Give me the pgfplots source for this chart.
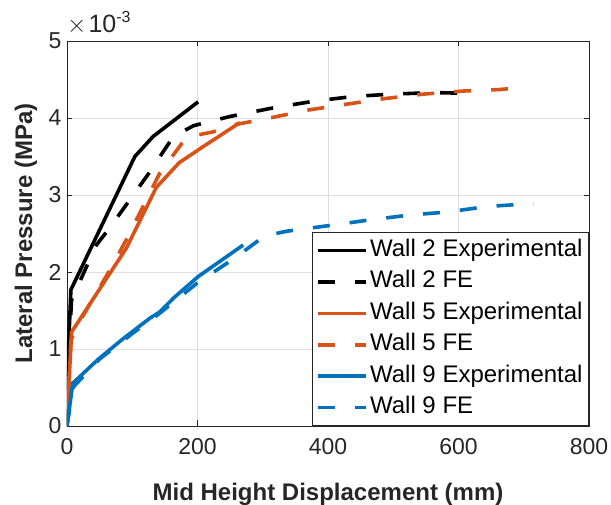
\documentclass[border=0pt]{standalone}
\usepackage{fontspec}
\setmainfont{Liberation Sans}
\usepackage{pgfplots}
\pgfplotsset{compat=1.18}
\definecolor{mblue}{rgb}{0,0.447,0.741}
\definecolor{morange}{rgb}{0.85,0.325,0.098}
\definecolor{axisgray}{HTML}{262626}
\definecolor{gridgray}{HTML}{DFDFDF}
\begin{document}
\begin{tikzpicture}
\useasboundingbox (-67pt,-79pt) rectangle (544pt,426pt);
\begin{axis}[
  name=ax,
  scale only axis,
  width=522pt, height=385pt,
  xmin=0, xmax=800, ymin=0, ymax=5,
  xtick={0,200,400,600,800},
  ytick={0,1,2,3,4,5},
  grid=major,
  major grid style={draw=gridgray, line width=0.8pt},
  axis line style={draw=axisgray, line width=0.9pt},
  tick style={draw=axisgray, line width=0.9pt},
  tick align=inside,
  major tick length=5.5pt,
  /pgf/number format/assume math mode=true,
  tick label style={font=\fontsize{23}{27}\selectfont, text=axisgray},
  xticklabel style={yshift=-9pt},
  yticklabel style={xshift=-2pt},
  xlabel={Mid Height Displacement (mm)},
  ylabel={Lateral Pressure (MPa)},
  label style={font=\fontsize{24}{28}\selectfont\bfseries, text=axisgray},
  xlabel style={at={(axis description cs:0.5,-0.193)}, anchor=base},
  ylabel style={at={(axis description cs:-0.067,0.5)}, anchor=base},
  legend cell align=left,
  legend image code/.code={\draw[#1] (0pt,0pt) -- (48pt,0pt);},
  legend style={at={(1,0)}, anchor=south east, draw=axisgray, line width=0.8pt,
    fill=white, font=\fontsize{24}{28}\selectfont, text=black,
    inner xsep=4pt, inner ysep=7pt, row sep=9.4pt,
    nodes={inner xsep=2pt, inner ysep=0pt, text height=17pt, text depth=5pt}},
  every axis plot/.append style={line width=3.6pt},
]
% Wall 2 Experimental
\addplot[black, solid] coordinates {(0,0) (2,0.95) (6,1.77) (104,3.50) (132,3.76) (201,4.21)};
\addlegendentry{Wall 2 Experimental}
% Wall 2 FE
\addplot[black, dash pattern=on 17pt off 20pt] coordinates {(0,0) (3,1.0) (7,1.64) (45,2.35) (66,2.58) (127,3.30) (163,3.76) (194,3.90) (250,4.02) (321,4.14) (380,4.22) (439,4.28) (498,4.31) (561,4.33) (618,4.32) (628,4.30)};
\addlegendentry{Wall 2 FE}
% Wall 5 Experimental
\addplot[morange, solid] coordinates {(0,0) (3,0.56) (7,1.22) (91,2.31) (137,3.10) (172,3.42) (209,3.63) (265,3.94)};
\addlegendentry{Wall 5 Experimental}
% Wall 5 FE
\addplot[morange, dash pattern=on 17pt off 20pt] coordinates {(0,0) (6,1.10) (12,1.25) (66,2.03) (91,2.42) (142,3.28) (183,3.75) (224,3.82) (255,3.91) (311,4.00) (367,4.10) (429,4.18) (485,4.25) (546,4.31) (607,4.35) (664,4.37) (676,4.38)};
\addlegendentry{Wall 5 FE}
% Wall 9 Experimental
\addplot[mblue, solid] coordinates {(0,0) (9,0.56) (17,0.62) (47,0.86) (84,1.12) (127,1.40) (142,1.48) (163,1.66) (201,1.94) (270,2.35)};
\addlegendentry{Wall 9 Experimental}
% Wall 9 FE
\addplot[mblue, dash pattern=on 17pt off 20pt] coordinates {(0,0) (9,0.50) (20,0.60) (50,0.87) (100,1.20) (140,1.45) (200,1.86) (257,2.18) (303,2.47) (337,2.53) (408,2.61) (467,2.68) (526,2.74) (584,2.78) (643,2.85) (715,2.89)};
\addlegendentry{Wall 9 FE}
\end{axis}
\node[anchor=base west, inner sep=0pt, text=axisgray, font=\fontsize{25}{29}\selectfont]
  at ([xshift=0pt, yshift=8pt]ax.north west) {$\times$\hspace{2pt}10\raisebox{10pt}{\fontsize{16}{16}\selectfont -3}};
\end{tikzpicture}
\end{document}
